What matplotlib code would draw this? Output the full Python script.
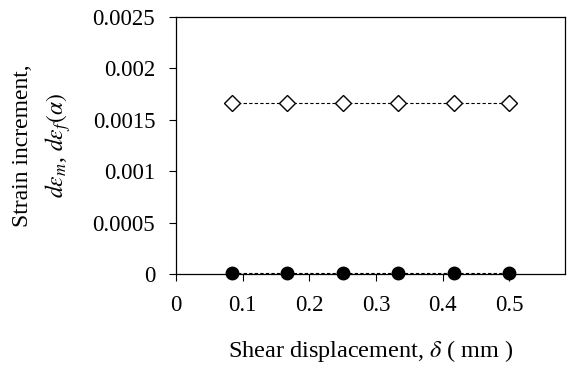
import matplotlib
matplotlib.use('Agg')
import matplotlib.pyplot as plt

# shear displacement (mm)
delta = [1/12, 2/12, 3/12, 4/12, 5/12, 6/12]
# strain increments
d_eps_f = [0.001667, 0.001667, 0.001667, 0.001667, 0.001667, 0.001667]
d_eps_m = [0.00001, 0.00001, 0.00001, 0.00001, 0.00001, 0.00001]

x_ticks = [0, 0.1, 0.2, 0.3, 0.4, 0.5]
y_ticks = [0, 0.0005, 0.001, 0.0015, 0.002, 0.0025]

plt.rcParams['font.family'] = 'Liberation Serif'
plt.rcParams['mathtext.fontset'] = 'stix'
plt.rcParams['font.size'] = 16.5

fig = plt.figure(figsize=(5.69, 3.67), dpi=100)
ax = fig.add_axes([176/569, 1 - 274/367, (565-176)/569, (274-17)/367])

ax.plot(delta, d_eps_f, linestyle='--', dashes=(3, 2), color='black', linewidth=0.8,
        marker='D', markersize=8, markerfacecolor='white', markeredgecolor='black',
        markeredgewidth=1.0)
ax.plot(delta, d_eps_m, linestyle='--', dashes=(3, 2), color='black', linewidth=0.8,
        marker='o', markersize=9, markerfacecolor='black', markeredgecolor='black',
        clip_on=False)

ax.set_xlim(0, 7/12)
ax.set_ylim(0, 0.0025)
ax.set_xticks(x_ticks)
ax.set_xticklabels(['0', '0.1', '0.2', '0.3', '0.4', '0.5'])
ax.set_yticks(y_ticks)
ax.set_yticklabels(['0', '0.0005', '0.001', '0.0015', '0.002', '0.0025'])
ax.tick_params(direction='out', length=5, width=0.8)
ax.tick_params(axis='y', pad=10)
ax.tick_params(axis='x', pad=10)

for s in ax.spines.values():
    s.set_linewidth(0.9)

ax.set_xlabel(r'Shear displacement, $\delta$ ( mm )', labelpad=16, fontsize=17.5)
ax.set_ylabel('Strain increment,\n' + r'$d\varepsilon_m$, $d\varepsilon_f(\alpha)$',
              labelpad=14, linespacing=1.5, fontsize=17)

fig.savefig('out.png', dpi=100)
